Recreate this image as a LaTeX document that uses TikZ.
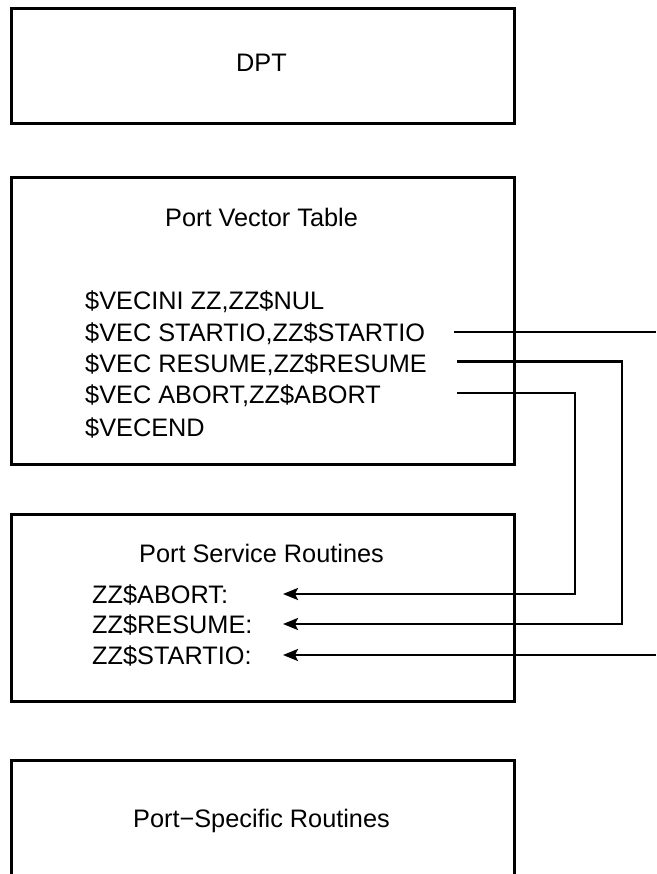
\documentclass[tikz,border=0pt]{standalone}
\usepackage{fontspec}
\setmainfont{Liberation Sans}
\usetikzlibrary{arrows.meta}
\begin{document}
\begin{tikzpicture}[x=1pt,y=-1pt,
  box/.style={draw, line width=2.8pt, minimum width=503pt, inner sep=0pt, anchor=north west},
  txt/.style={font=\fontsize{25.3}{30}\selectfont, inner sep=0pt},
  code/.style={txt, anchor=base west},
  ttl/.style={txt, anchor=base},
  conn/.style={line width=2.4pt},
  arr/.style={conn, -{Stealth[length=15pt,width=12pt,inset=3pt]}}]
\clip (0,0) rectangle (656,874);

% boxes
\node[box, minimum height=115pt] (dpt) at (10,7) {};
\node[box, minimum height=287pt] (pvt) at (10,176) {};
\node[box, minimum height=187pt] (psr) at (10,513) {};
\node[box, minimum height=140pt] (pspr) at (10,759) {};

% titles
\node[ttl] (dptT) at (261.5,72) {DPT};
\node[ttl] (pvtT) at (261.5,227) {Port Vector Table};
\node[ttl] (psrT) at (261.5,562) {Port Service Routines};
\node[ttl] (psprT) at (261.5,827) {Port\textminus Specific Routines};

% vector table code
\node[code] (v1) at (85,309) {\$VECINI ZZ,ZZ\$NUL};
\node[code] (v2) at (85,341) {\$VEC STARTIO,ZZ\$STARTIO};
\node[code] (v3) at (85,372) {\$VEC RESUME,ZZ\$RESUME};
\node[code] (v4) at (85,403) {\$VEC ABORT,ZZ\$ABORT};
\node[code] (v5) at (85,436) {\$VECEND};

% service routines
\node[code] (r1) at (92,603) {ZZ\$ABORT:};
\node[code] (r2) at (92,633) {ZZ\$RESUME:};
\node[code] (r3) at (92,664) {ZZ\$STARTIO:};

% connector points
\coordinate (sA) at (454,332);
\coordinate (sOut) at (656,332);
\coordinate (sIn) at (656,655);
\coordinate (tS) at (283,655);

\coordinate (rA) at (457,361.5);
\coordinate (rC) at (622,361.5);
\coordinate (tR) at (283,624);

\coordinate (aA) at (457,393);
\coordinate (aC) at (575,393);
\coordinate (tA) at (283,594);

\draw[conn] (sA) -- (sOut);
\draw[arr] (sIn) -- (tS);
\draw[arr] (rA) -- (rC) |- (tR);
\draw[arr] (aA) -- (aC) |- (tA);
\end{tikzpicture}
\end{document}
